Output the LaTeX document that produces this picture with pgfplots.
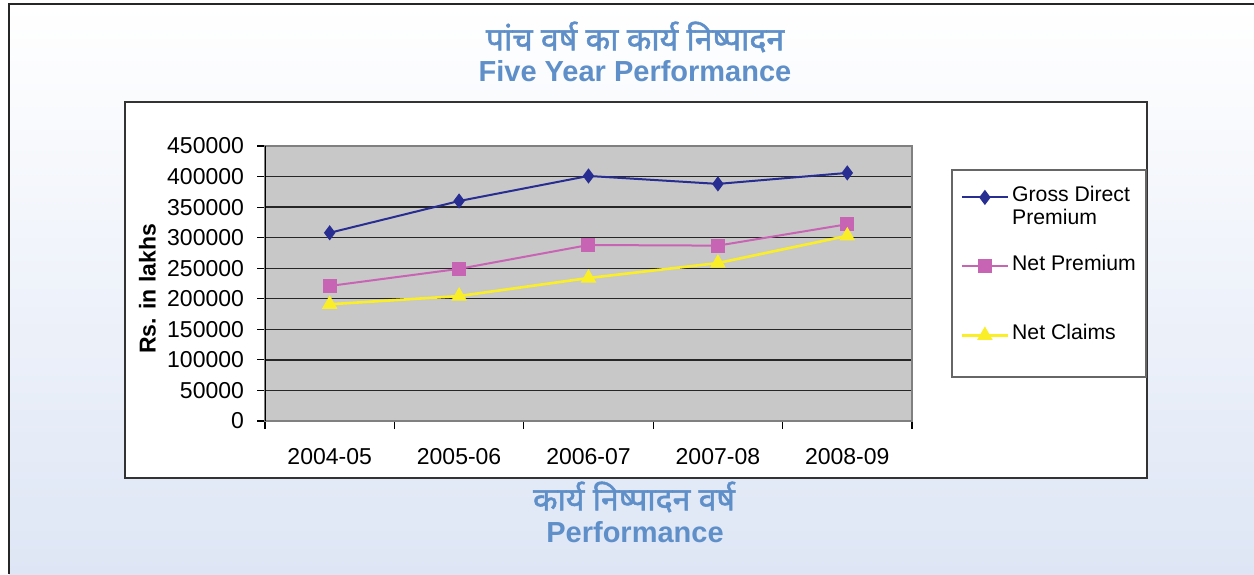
\documentclass[border=0pt]{standalone}
\usepackage{fontspec}
\setmainfont{Liberation Sans}
\newfontfamily\devfont[Script=Devanagari,FakeBold=1.6]{Noto Sans}
\usepackage{pgfplots}
\pgfplotsset{compat=1.18}
\definecolor{titleblue}{RGB}{95,143,200}
\definecolor{bgblue}{RGB}{222,230,245}
\definecolor{gdp}{RGB}{40,45,145}
\definecolor{np}{RGB}{200,100,180}
\definecolor{nc}{RGB}{250,238,40}
\definecolor{plotgray}{RGB}{200,200,200}
\begin{document}
\begin{tikzpicture}
\useasboundingbox (0,0) rectangle (627pt,-287pt);
\begin{scope}[x=0.5pt,y=-0.5pt]
\shade[top color=white,bottom color=bgblue] (9,4) rectangle (1254,574);
\draw[line width=1.2pt, black!85] (9,574)--(9,4)--(1254,4);
\draw[fill=white, draw=black!80, line width=0.6pt] (125,102) rectangle (1147,478);
\draw[fill=white, draw=black!60, line width=0.6pt] (952,170) rectangle (1146,377);
\node[font=\devfont\fontsize{16}{18}\selectfont, text=titleblue] at (635,37) {पांच वर्ष का कार्य निष्पादन};
\node[font=\bfseries\fontsize{14.5}{17}\selectfont, text=titleblue] at (635,71) {Five Year Performance};
\node[font=\devfont\fontsize{16}{18}\selectfont, text=titleblue] at (634,497) {कार्य निष्पादन वर्ष};
\node[font=\bfseries\fontsize{14.5}{17}\selectfont, text=titleblue] at (635,532) {Performance};
\end{scope}
\begin{axis}[at={(132.5pt,-210.5pt)}, anchor=south west, scale only axis,
  width=323.5pt, height=137.5pt,
  xmin=-0.5, xmax=4.5, ymin=0, ymax=450000,
  xtick={-0.5,0.5,1.5,2.5,3.5,4.5}, x tick label as interval,
  xticklabels={2004-05,2005-06,2006-07,2007-08,2008-09},
  ytick={0,50000,100000,150000,200000,250000,300000,350000,400000,450000},
  yticklabels={0,50000,100000,150000,200000,250000,300000,350000,400000,450000},
  scaled y ticks=false,
  tick label style={font=\fontsize{11.5}{13}\selectfont, black},
  xticklabel style={yshift=-6pt},
  yticklabel style={xshift=-3pt},
  axis background/.style={fill=plotgray},
  ymajorgrids, grid style={black!85, line width=0.7pt},
  tick align=outside, tick pos=left, major tick length=4pt,
  tick style={black, line width=0.6pt},
  axis line style={gray, line width=0.6pt},
  ylabel={Rs. in lakhs},
  ylabel style={font=\bfseries\fontsize{11.5}{13}\selectfont, at={(axis description cs:-0.1816,0.48)}, anchor=center},
  legend image code/.code={\draw[mark repeat=2,mark phase=2,#1] plot coordinates {(0pt,0pt) (11.5pt,0pt) (23pt,0pt)};},
  legend style={at={(axis description cs:1.0745,0.8564)}, anchor=north west, draw=none, fill=none,
    inner sep=0pt, row sep=0pt, column sep=1.5pt,
    nodes={inner sep=0pt, text height=8pt, text depth=3.5pt, font=\fontsize{10.6}{12}\selectfont}},
  legend cell align=left,
]
\draw[black, line width=0.7pt] (rel axis cs:0,0) -- (rel axis cs:0,1);
\addplot[gdp, line width=1pt, mark=diamond*, mark size=3pt] coordinates {(0,308000) (1,360000) (2,401000) (3,388000) (4,406000)};
\addlegendentry{Gross Direct}
\addlegendimage{empty legend}\addlegendentry{Premium}
\addlegendimage{empty legend}\addlegendentry{}
\addplot[np, line width=1pt, mark=square*, mark size=3pt] coordinates {(0,221000) (1,249000) (2,288000) (3,287000) (4,322000)};
\addlegendentry{Net Premium}
\addlegendimage{empty legend}\addlegendentry{}
\addlegendimage{empty legend}\addlegendentry{}
\addplot[nc, line width=1.3pt, mark=triangle*, mark size=3.2pt] coordinates {(0,191000) (1,204500) (2,234000) (3,258500) (4,303000)};
\addlegendentry{Net Claims}
\end{axis}
\end{tikzpicture}
\end{document}
